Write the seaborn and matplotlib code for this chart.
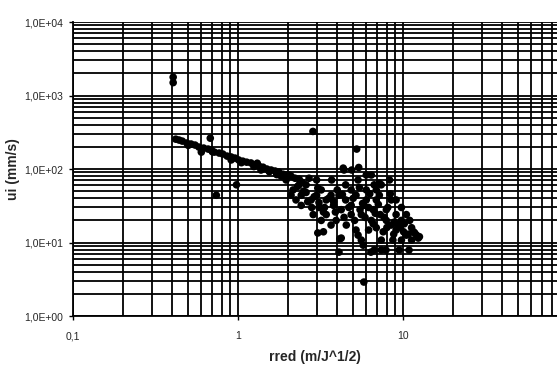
import seaborn as sns
import matplotlib.pyplot as plt
import pandas as pd
from matplotlib.ticker import LogLocator, FixedLocator, FixedFormatter, NullFormatter

sns.set_style("white")
plt.rcParams['font.family'] = ['Liberation Sans Narrow', 'Liberation Sans', 'DejaVu Sans']

# main trend line of points
line_x = [0.42, 0.44, 0.46, 0.49, 0.52, 0.55, 0.58, 0.62, 0.66, 0.69, 0.72, 0.77,
          0.81, 0.86, 0.91, 0.96, 1.01, 1.07, 1.13, 1.20, 1.27, 1.34, 1.42, 1.50,
          1.59, 1.68, 1.77, 1.88, 1.98, 2.10, 2.22, 2.35, 0.60, 0.91, 1.38, 1.83,
          0.50, 0.70, 1.05, 1.25, 1.55, 1.72]
line_y = [255, 248, 240, 226, 219, 212, 199, 193, 187, 181, 170, 165,
          160, 150, 146, 141, 133, 128, 124, 121, 113, 110, 106, 100,
          97, 94, 91, 85, 83, 80, 75, 73, 170, 133, 97, 80,
          210, 172, 122, 108, 92, 84]

# isolated points
single_x = [0.405, 0.405, 0.68, 0.74, 0.98, 1.31, 2.85, 5.25, 4.4, 5.4, 3.05, 5.8]
single_y = [1780, 1500, 263, 44, 61, 120, 325, 187, 97, 105, 13.5, 2.9]

# scattered cloud at high rred
cloud_x = [2.04, 2.16, 2.42, 2.59, 2.78, 3.1, 3.2, 3.3, 4.35, 5.35, 6.44, 7.4,
           7.2, 6.0, 4.86, 4.23, 3.94, 4.54, 5.6, 6.6, 7.94, 8.5, 9.1, 9.8,
           10.5, 11.3, 12.1, 12.4, 10.9, 7.4, 6.4, 5.75, 4.23, 4.1, 3.67, 3.43,
           2.86, 2.42, 2.25, 2.59, 3.67, 3.2, 4.86, 5.2, 6.0, 6.9, 8.5, 9.1,
           7.6, 6.9, 6.2, 5.2, 5.6, 9.8, 8.7, 4.15, 5.35, 6.7, 11.8, 9.8,
           8.3, 7.2, 1.96, 2.1, 2.35, 2.7, 3.0, 3.43, 3.8, 4.5, 4.86, 5.8,
           6.44, 7.94, 9.1, 10.5, 7.4, 7.9, 9.5, 11.3, 4.9, 6.0, 6.7, 4.5,
           3.7, 3.0, 4.1,
           2.3, 2.5, 2.65, 2.9, 3.1, 3.35, 3.55, 3.9, 4.3, 4.7, 5.0, 5.5,
           5.9, 6.3, 6.8, 7.1, 7.7, 8.1, 8.9, 9.4, 10.1, 10.8, 11.6, 12.6,
           2.8, 3.3, 3.8, 4.4, 5.1, 5.7, 6.2, 6.6, 7.3, 8.0, 8.8, 9.6,
           2.45, 3.05, 4.0, 5.45, 6.9, 8.4, 10.2, 11.0]
cloud_y = [83, 52, 44, 61, 38, 30, 20, 14, 103, 71, 83, 61,
           44, 38, 32, 28, 20, 17.3, 24, 28, 28, 17.3, 14.8, 10.8,
           12.6, 15.9, 12.6, 11.5, 7.9, 7.9, 7.4, 9.2, 11.5, 7.4, 17.3, 24,
           24, 32, 38, 48, 44, 52, 52, 44, 52, 38, 38, 24,
           14, 15.9, 14.8, 14.8, 10.8, 20, 10.8, 11.2, 12.6, 7.9, 13.5, 30,
           71, 64, 71, 44, 61, 75, 44, 38, 32, 38, 24, 32,
           20, 20, 38, 24, 10.8, 7.9, 7.9, 10.8, 97, 83, 61, 61,
           71, 71, 44,
           58, 50, 36, 42, 35, 30, 40, 26, 45, 30, 40, 28,
           22, 46, 25, 33, 22, 30, 19, 17, 14, 13, 14, 12,
           30, 26, 36, 22, 20, 34, 30, 18, 24, 16, 13, 16,
           66, 55, 52, 56, 52, 46, 18, 20]

df = pd.DataFrame({
    "rred": line_x + single_x + cloud_x,
    "ui": line_y + single_y + cloud_y,
})

fig = plt.figure(figsize=(5.57, 3.74), dpi=100)
ax = fig.add_axes([0.131, 0.155, 0.869, 0.786])

sns.scatterplot(data=df, x="rred", y="ui", ax=ax, color="black",
                s=30, edgecolor="none", marker="o", zorder=3, legend=False)

ax.set_xscale("log")
ax.set_yscale("log")
ax.set_xlim(0.1, 86)
ax.set_ylim(1, 10000)

ax.xaxis.set_major_locator(FixedLocator([0.1, 1, 10]))
ax.xaxis.set_major_formatter(FixedFormatter(["0,1", "1", "10"]))
ax.xaxis.set_minor_locator(LogLocator(base=10, subs=range(2, 10), numticks=20))
ax.xaxis.set_minor_formatter(NullFormatter())
ax.yaxis.set_major_locator(FixedLocator([1, 10, 100, 1000, 10000]))
ax.yaxis.set_major_formatter(FixedFormatter(["1,0E+00", "1,0E+01", "1,0E+02", "1,0E+03", "1,0E+04"]))
ax.yaxis.set_minor_locator(LogLocator(base=10, subs=range(2, 10), numticks=20))
ax.yaxis.set_minor_formatter(NullFormatter())

ax.grid(True, which="both", color="black", linewidth=1.3)
ax.set_axisbelow(True)
ax.tick_params(which="major", length=3, width=1, color="black", labelsize=7.5, pad=4)
ax.tick_params(which="minor", length=0)
ax.tick_params(axis="x", bottom=True, pad=8)
ax.tick_params(axis="y", left=True)

for side in ["left", "bottom"]:
    ax.spines[side].set_color("black")
    ax.spines[side].set_linewidth(1.3)
ax.spines["right"].set_visible(False)
ax.spines["top"].set_visible(False)

ax.set_xlabel("rred (m/J^1/2)", fontsize=10, fontweight="bold", labelpad=6)
ax.set_ylabel("ui (mm/s)", fontsize=10, fontweight="bold", labelpad=3)

fig.savefig("out.png", dpi=100)
